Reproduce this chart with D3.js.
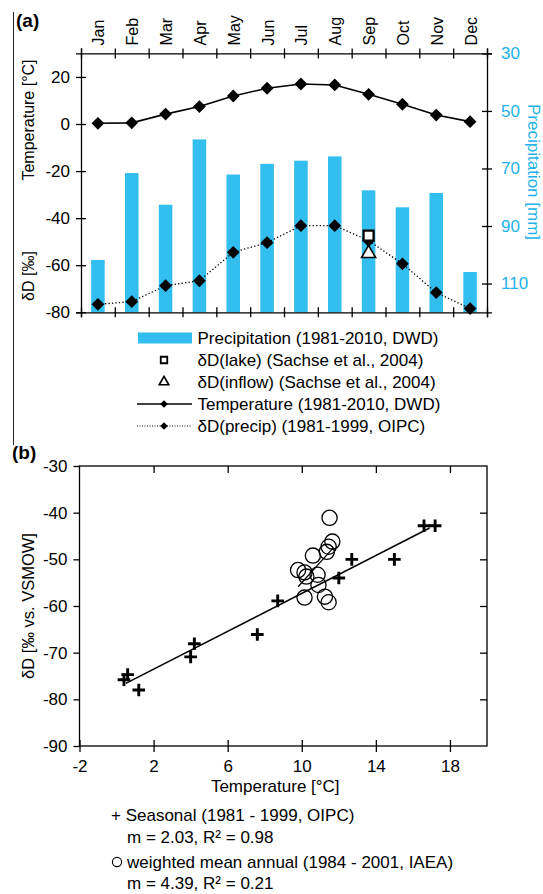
<!DOCTYPE html>
<html><head><meta charset="utf-8">
<script src="https://cdn.jsdelivr.net/npm/d3@7"></script>
<style>
body{margin:0;background:#fff}
svg{display:block}
text{font-family:"Liberation Sans",Arial,sans-serif;fill:#000}
</style>
</head><body>
<svg id="c" width="543" height="894"></svg>
<script>
// ---------- data (panel a) ----------
const months = ["Jan","Feb","Mar","Apr","May","Jun","Jul","Aug","Sep","Oct","Nov","Dec"];
const precipitation = [101.8, 71.6, 82.6, 59.9, 72.1, 68.4, 67.3, 65.8, 77.6, 83.5, 78.5, 106.0]; // mm (right axis, reversed)
const temperature = [0.3, 0.5, 4.2, 7.4, 11.9, 15.2, 17.0, 16.6, 12.6, 8.4, 3.8, 1.0];           // °C
const dDprecip = [-76.6, -75.5, -68.7, -66.6, -54.5, -50.4, -43.2, -43.2, -49.5, -59.4, -71.6, -78.4]; // ‰
const dDlakeMonth = "Sep", dDlakeValue = -47.4;
const dDinflowMonth = "Sep", dDinflowValue = -55.0;
const leftTicks = [20, 0, -20, -40, -60, -80];
const rightTicks = [30, 50, 70, 90, 110];
const legendA = ["Precipitation (1981-2010, DWD)", "δD(lake) (Sachse et al., 2004)", "δD(inflow) (Sachse et al., 2004)", "Temperature (1981-2010, DWD)", "δD(precip) (1981-1999, OIPC)"];

// ---------- data (panel b) ----------
const seasonalT = [0.4, 0.6, 1.2, 4.0, 4.2, 7.6, 8.7, 12.0, 12.7, 15.0, 16.6, 17.2];
const seasonalD = [-75.8, -74.7, -78.0, -70.9, -68.1, -66.1, -58.9, -54.0, -50.0, -50.0, -42.8, -42.8];
const annualT = [11.5, 11.65, 11.45, 11.35, 10.6, 9.8, 10.15, 10.25, 10.85, 10.9, 10.15, 11.25, 11.45];
const annualD = [-41.1, -46.2, -47.3, -48.4, -49.2, -52.3, -52.8, -53.7, -53.3, -55.5, -58.2, -58.0, -59.2];
const fitSeasonal = [2.03, -77.6, 0.5, 16.9];  // slope, intercept, x-from, x-to
const fitAnnual = [4.39, -98.9, 9.8, 11.7];
const xTicksB = [-2, 2, 6, 10, 14, 18];
const yTicksB = [-30, -40, -50, -60, -70, -80, -90];
const legendB = ["+ Seasonal (1981 - 1999, OIPC)", "m = 2.03, R² = 0.98", "weighted mean annual (1984 - 2001, IAEA)", "m = 4.39, R² = 0.21"];

const CYAN_BAR = "#33BEF0", CYAN_TXT = "#22B2EC";
const FONT = "Liberation Sans, Arial, sans-serif";
const fmt = d => String(d);   // plain hyphen-minus like the reference
const svg = d3.select("#c");

// vertical border line on the left
svg.append("line").attr("x1",13.5).attr("x2",13.5).attr("y1",12).attr("y2",445)
  .attr("stroke","#222").attr("stroke-width",1);

// ================= PANEL A =================
const A = {l:81, r:487, t:53.4, b:312.3};
const x = d3.scaleBand().domain(months).range([A.l, A.r]);
const xb = d3.scaleLinear().domain([0,12]).range([A.l, A.r]);
const yL = d3.scaleLinear().domain([-80,30]).range([A.b, A.t]);
const yR = d3.scaleLinear().domain([30,120]).range([A.t, A.b]);
const cx = m => x(m) + x.bandwidth()/2;

const gA = svg.append("g");
svg.append("text").attr("x",16).attr("y",20).attr("dominant-baseline","central")
  .attr("font-size",19).attr("font-weight","bold").text("(a)");

// bars
gA.append("g").selectAll("rect").data(months).join("rect")
  .attr("x", m => x(m) + x.bandwidth()*0.3)
  .attr("width", x.bandwidth()*0.4)
  .attr("y", (m,i) => yR(precipitation[i]))
  .attr("height", (m,i) => yR(120) - yR(precipitation[i]))
  .attr("fill", CYAN_BAR);

function crossTicks(g, dir, len){
  g.selectAll(".tick line").each(function(){
    const s = d3.select(this);
    if(dir==="v"){ s.attr("y1",-len).attr("y2",len); }
    else { s.attr("x1",-len).attr("x2",len); }
  });
}
// top axis (band boundaries)
const topAx = gA.append("g").attr("transform",`translate(0,${A.t})`)
  .call(d3.axisTop(xb).tickValues(d3.range(13)).tickSize(5).tickFormat(""));
crossTicks(topAx,"v",5);
// bottom axis
const botAx = gA.append("g").attr("transform",`translate(0,${A.b})`)
  .call(d3.axisBottom(xb).tickValues(d3.range(13)).tickSize(5).tickFormat(""));
crossTicks(botAx,"v",5);
// month labels
gA.append("g").selectAll("text").data(months).join("text")
  .attr("transform", m => `translate(${cx(m)+1},${A.t-8}) rotate(-90)`)
  .attr("text-anchor","start").attr("dominant-baseline","central")
  .attr("font-size",16).text(m => m);
// left axis
const lAx = gA.append("g").attr("transform",`translate(${A.l},0)`)
  .call(d3.axisLeft(yL).tickValues(leftTicks).tickSize(5).tickPadding(6).tickFormat(fmt));
crossTicks(lAx,"h",5);
lAx.selectAll("text").attr("font-size",17).attr("font-family",FONT);
// right axis
const rAx = gA.append("g").attr("transform",`translate(${A.r},0)`)
  .call(d3.axisRight(yR).tickValues(rightTicks).tickSize(5).tickPadding(9).tickFormat(fmt));
crossTicks(rAx,"h",5);
rAx.selectAll("text").attr("font-size",17).attr("font-family",FONT).style("fill",CYAN_TXT);
[topAx,botAx,lAx,rAx].forEach(g=>{g.selectAll("path.domain").attr("stroke","#000").attr("stroke-width",1.3);
  g.selectAll(".tick line").attr("stroke","#000").attr("stroke-width",1.3);});

// axis titles
svg.append("text").attr("transform","translate(28,120) rotate(-90)").attr("text-anchor","middle")
  .attr("dominant-baseline","central").attr("font-size",16).text("Temperature [°C]");
svg.append("text").attr("transform","translate(28,276) rotate(-90)").attr("text-anchor","middle")
  .attr("dominant-baseline","central").attr("font-size",16).text("δD [‰]");
svg.append("text").attr("transform","translate(533,172) rotate(90)").attr("text-anchor","middle")
  .attr("dominant-baseline","central").attr("font-size",17).style("fill",CYAN_TXT).text("Precipitation [mm]");

// lines
const lineT = d3.line().x((d,i)=>cx(months[i])).y(d=>yL(d));
gA.append("path").attr("d",lineT(temperature)).attr("fill","none").attr("stroke","#000").attr("stroke-width",1.6);
gA.append("path").attr("d",lineT(dDprecip)).attr("fill","none").attr("stroke","#000").attr("stroke-width",1.3).attr("stroke-dasharray","1.3,2.2");
const diamond = d3.symbol().type(d3.symbolSquare).size(82);
[temperature, dDprecip].forEach(arr=>{
  gA.append("g").selectAll("path").data(arr).join("path")
    .attr("d", diamond)
    .attr("transform",(d,i)=>`translate(${cx(months[i])},${yL(d)}) rotate(45)`)
    .attr("fill","#000");
});
// lake & inflow
gA.append("path").attr("d", d3.symbol().type(d3.symbolSquare).size(100)())
  .attr("transform",`translate(${cx(dDlakeMonth)},${yL(dDlakeValue)})`)
  .attr("fill","#fff").attr("stroke","#000").attr("stroke-width",2.2);
gA.append("path").attr("d", d3.symbol().type(d3.symbolTriangle).size(85)())
  .attr("transform",`translate(${cx(dDinflowMonth)},${yL(dDinflowValue)})`)
  .attr("fill","#fff").attr("stroke","#000").attr("stroke-width",1.6);

// legend A
const legY = d3.scalePoint().domain(legendA).range([338, 426]);
const gL = svg.append("g");
gL.selectAll("text").data(legendA).join("text")
  .attr("x",197.5).attr("y",d=>legY(d)).attr("dominant-baseline","central")
  .attr("font-size",17).text(d=>d);
gL.append("rect").attr("x",138).attr("y",legY(legendA[0])-5.5).attr("width",54).attr("height",11).attr("fill",CYAN_BAR);
gL.append("path").attr("d", d3.symbol().type(d3.symbolSquare).size(42)())
  .attr("transform",`translate(164,${legY(legendA[1])})`).attr("fill","#fff").attr("stroke","#000").attr("stroke-width",1.8);
gL.append("path").attr("d", d3.symbol().type(d3.symbolTriangle).size(40)())
  .attr("transform",`translate(164,${legY(legendA[2])})`).attr("fill","#fff").attr("stroke","#000").attr("stroke-width",1.6);
gL.append("line").attr("x1",137).attr("x2",192).attr("y1",legY(legendA[3])).attr("y2",legY(legendA[3])).attr("stroke","#000").attr("stroke-width",1.4);
gL.append("line").attr("x1",137).attr("x2",192).attr("y1",legY(legendA[4])).attr("y2",legY(legendA[4])).attr("stroke","#000").attr("stroke-width",1).attr("stroke-dasharray","1,1.5");
[3,4].forEach(k=>gL.append("path").attr("d", d3.symbol().type(d3.symbolSquare).size(30)())
  .attr("transform",`translate(164,${legY(legendA[k])}) rotate(45)`).attr("fill","#000"));

// ================= PANEL B =================
const B = {l:79.5, r:487, t:466, b:746};
const xB = d3.scaleLinear().domain([-2,20]).range([B.l, B.r]);
const yB = d3.scaleLinear().domain([-90,-30]).range([B.b, B.t]);
const gB = svg.append("g");
svg.append("text").attr("x",12).attr("y",452).attr("dominant-baseline","central")
  .attr("font-size",19).attr("font-weight","bold").text("(b)");

gB.append("rect").attr("x",B.l).attr("y",B.t).attr("width",B.r-B.l).attr("height",B.b-B.t)
  .attr("fill","none").attr("stroke","#000").attr("stroke-width",1.3);
const bx = gB.append("g").attr("transform",`translate(0,${B.b})`)
  .call(d3.axisBottom(xB).tickValues(xTicksB).tickSize(6).tickPadding(8).tickFormat(fmt));
crossTicks(bx,"v",6);
const tx = gB.append("g").attr("transform",`translate(0,${B.t})`)
  .call(d3.axisBottom(xB).tickValues(xTicksB.slice(1)).tickSize(7).tickFormat(""));
const ly = gB.append("g").attr("transform",`translate(${B.l},0)`)
  .call(d3.axisLeft(yB).tickValues(yTicksB).tickSize(6).tickPadding(6).tickFormat(fmt));
const ry = gB.append("g").attr("transform",`translate(${B.r},0)`)
  .call(d3.axisLeft(yB).tickValues(yTicksB.slice(1,-1)).tickSize(-7).tickFormat(""));
[bx,tx,ly,ry].forEach(g=>{g.selectAll("path.domain").remove();
  g.selectAll(".tick line").attr("stroke","#000").attr("stroke-width",1.3);
  g.selectAll("text").attr("font-size",17).attr("font-family",FONT);});
ry.selectAll(".tick line").attr("x2",-7);
tx.selectAll(".tick line").attr("y2",7);

svg.append("text").attr("transform",`translate(28,${(B.t+B.b)/2}) rotate(-90)`).attr("text-anchor","middle")
  .attr("dominant-baseline","central").attr("font-size",16.5).text("δD [‰ vs. VSMOW]");
svg.append("text").attr("x",(B.l+B.r)/2-8).attr("y",786).attr("text-anchor","middle")
  .attr("dominant-baseline","central").attr("font-size",17).text("Temperature [°C]");

// fit lines
[fitSeasonal, fitAnnual].forEach(f=>{
  gB.append("line").attr("x1",xB(f[2])).attr("y1",yB(f[0]*f[2]+f[1]))
    .attr("x2",xB(f[3])).attr("y2",yB(f[0]*f[3]+f[1]))
    .attr("stroke","#000").attr("stroke-width",f===fitSeasonal?1.5:1.2);
});
// circles
gB.append("g").selectAll("circle").data(annualT).join("circle")
  .attr("cx",d=>xB(d)).attr("cy",(d,i)=>yB(annualD[i])).attr("r",7.6)
  .attr("fill","none").attr("stroke","#000").attr("stroke-width",1.3);
// plus markers
gB.append("g").selectAll("path").data(seasonalT).join("path")
  .attr("d","M-6.3,0H6.3M0,-6.3V6.3")
  .attr("transform",(d,i)=>`translate(${xB(d)},${yB(seasonalD[i])})`)
  .attr("stroke","#000").attr("stroke-width",2.9).attr("fill","none");

// legend B
const legBY = [815, 837, 862, 883];
const legBX = [111, 127, 127, 127];
svg.append("g").selectAll("text").data(legendB).join("text")
  .attr("x",(d,i)=>legBX[i]).attr("y",(d,i)=>legBY[i]).attr("dominant-baseline","central")
  .attr("font-size",17).text(d=>d);
svg.append("circle").attr("cx",117).attr("cy",legBY[2]).attr("r",4.6).attr("fill","none").attr("stroke","#000").attr("stroke-width",1.1);
</script>
</body></html>
